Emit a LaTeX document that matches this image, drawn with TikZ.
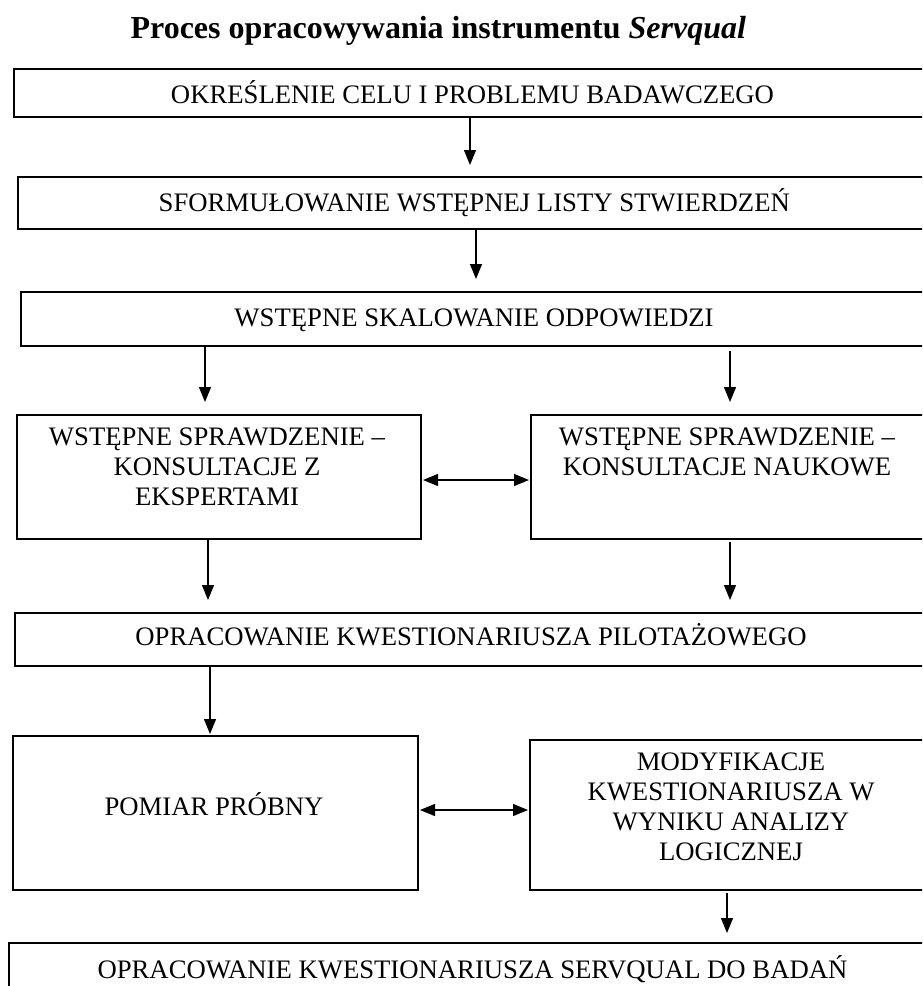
\documentclass[tikz,border=0pt]{standalone}
\usepackage{fontspec}
\setmainfont{Liberation Serif}
\usetikzlibrary{arrows.meta,calc}
\tikzset{
  box/.style={draw, line width=1.8pt, inner sep=0pt, outer sep=0pt, anchor=north west},
  txt/.style={anchor=base, inner sep=0pt, font=\fontsize{26.7}{30}\selectfont},
  arr/.style={line width=1.3pt, -{Triangle[length=15pt,width=12pt]}},
  darr/.style={line width=1.3pt, {Triangle[length=15pt,width=12pt]}-{Triangle[length=15pt,width=12pt]}, shorten <=2pt, shorten >=2pt},
}
\newcommand{\mlines}[1]{\parbox[t]{390pt}{\centering #1}}
\begin{document}
\begin{tikzpicture}[x=1pt,y=-1pt]
\useasboundingbox (0,0) rectangle (922,986);
\clip (0,0) rectangle (922,986);
% title
\node[anchor=base, inner sep=0pt, font=\fontsize{32}{36}\selectfont\bfseries] (title) at (438.3,38.3) {Proces opracowywania instrumentu \textit{Servqual}};
% boxes
\node[box, minimum width=916pt, minimum height=47.7pt] (b1) at (14,69) {};
\node[box, minimum width=912pt, minimum height=52pt] (b2) at (18,177.3) {};
\node[box, minimum width=909pt, minimum height=54pt] (b3) at (21,292) {};
\node[box, minimum width=404pt, minimum height=124pt] (b4l) at (17,415) {};
\node[box, minimum width=399pt, minimum height=124pt] (b4r) at (531,415) {};
\node[box, minimum width=915pt, minimum height=53pt] (b5) at (15,613) {};
\node[box, minimum width=405pt, minimum height=154pt] (b6l) at (13,736) {};
\node[box, minimum width=400pt, minimum height=150pt] (b6r) at (530,740) {};
\node[box, minimum width=930pt, minimum height=60pt] (b7) at (9,943) {};
% texts
\node[txt] (t1) at (472.5,103.3) {OKREŚLENIE CELU I PROBLEMU BADAWCZEGO};
\node[txt] (t2) at (474.3,211.7) {SFORMUŁOWANIE WSTĘPNEJ LISTY STWIERDZEŃ};
\node[txt] (t3) at (474,326.5) {WSTĘPNE SKALOWANIE ODPOWIEDZI};
\node[txt] (t4l) at (217,445.5) {\mlines{WSTĘPNE SPRAWDZENIE –\\KONSULTACJE Z\\EKSPERTAMI}};
\node[txt] (t4r) at (727,445.5) {\mlines{WSTĘPNE SPRAWDZENIE –\\KONSULTACJE NAUKOWE}};
\node[txt] (t5) at (471,645) {OPRACOWANIE KWESTIONARIUSZA PILOTAŻOWEGO};
\node[txt] (t6l) at (214,815.5) {POMIAR PRÓBNY};
\node[txt] (t6r) at (731,770.5) {\mlines{MODYFIKACJE\\KWESTIONARIUSZA W\\WYNIKU ANALIZY\\LOGICZNEJ}};
\node[txt] (t7) at (472.5,978.3) {OPRACOWANIE KWESTIONARIUSZA SERVQUAL DO BADAŃ};
% connector end points
\coordinate (a1) at (470,165);
\coordinate (a2) at (476,279);
\coordinate (a3l) at (205,402);
\coordinate (a3r) at (730,402);
\coordinate (d1) at (0,480);
\coordinate (a4l) at (208,600);
\coordinate (a4r) at (730,600);
\coordinate (a5) at (210,734);
\coordinate (d2) at (0,810);
\coordinate (a6) at (727,933);
% connectors
\draw[arr] (b1.south -| a1) -- (a1);
\draw[arr] (b2.south -| a2) -- (a2);
\draw[arr] (b3.south -| a3l) -- (a3l);
\draw[arr] ($(b3.south -| a3r)+(0,5)$) -- (a3r);
\draw[darr] (b4l.east |- d1) -- (b4r.west |- d1);
\draw[arr] (b4l.south -| a4l) -- (a4l);
\draw[arr] ($(b4r.south -| a4r)+(0,3)$) -- (a4r);
\draw[arr] (b5.south -| a5) -- (a5);
\draw[darr] (b6l.east |- d2) -- (b6r.west |- d2);
\draw[arr] ($(b6r.south -| a6)+(0,3)$) -- (a6);
\end{tikzpicture}
\end{document}
